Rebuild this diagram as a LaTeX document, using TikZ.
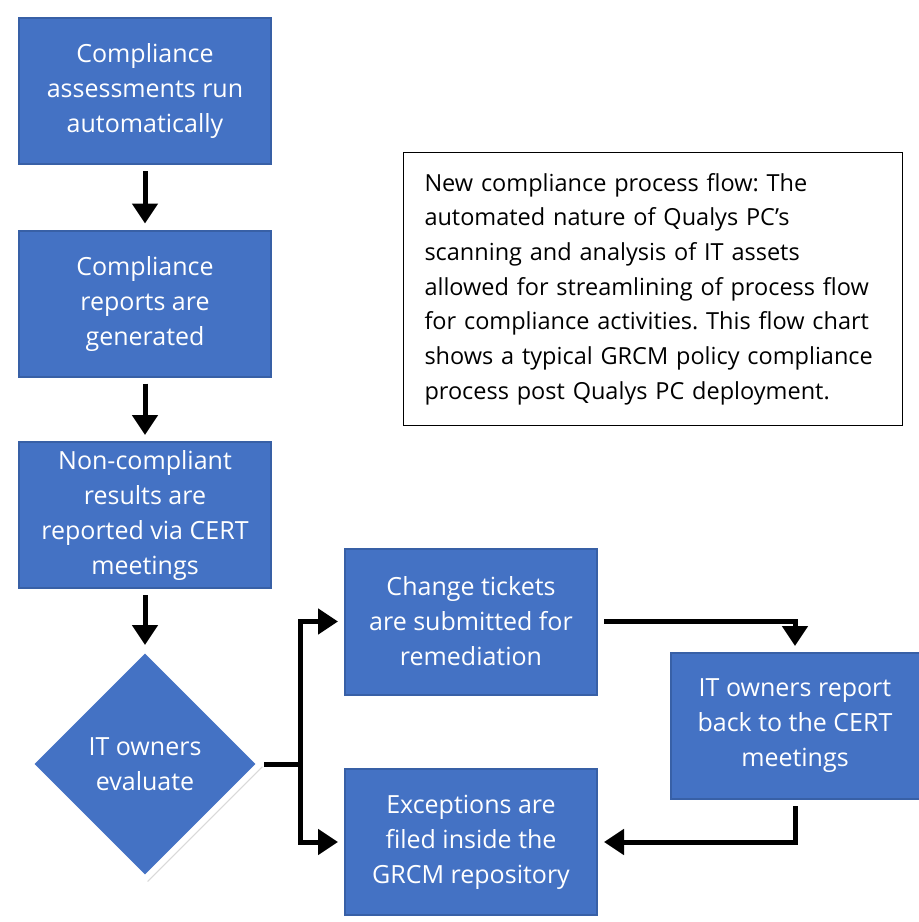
\documentclass[tikz,border=0pt]{standalone}
\usepackage{fontspec}
\setmainfont{Open Sans}
\frenchspacing
\usetikzlibrary{shapes.geometric,arrows.meta,shadows}
\definecolor{boxblue}{HTML}{4472C4}
\definecolor{boxedge}{HTML}{2F528F}
\tikzset{
  bevel/.style={path picture={\draw[boxedge, line width=10pt, opacity=0.55]
      (path picture bounding box.south west) rectangle (path picture bounding box.north east);}},
  procbox/.style={rectangle, fill=boxblue, draw=white, line width=6pt,
    minimum width=260pt, minimum height=154pt, inner sep=0pt, bevel,
    text=white, align=center, font=\fontsize{25}{35}\selectfont,
    drop shadow={shadow xshift=3pt, shadow yshift=-3pt, opacity=0.25, fill=black!60}},
  decbox/.style={diamond, fill=boxblue, draw=white, line width=6pt,
    minimum width=232pt, minimum height=232pt, inner sep=0pt,
    text=white, align=center, font=\fontsize{25}{35}\selectfont,
    drop shadow={shadow xshift=3pt, shadow yshift=-3pt, opacity=0.25, fill=black!60}},
  notebox/.style={rectangle, draw=black, line width=1.5pt, fill=white,
    minimum width=499pt, minimum height=273pt, text width=457pt,
    align=left, inner sep=0pt, font=\fontsize{23.5}{34.7}\selectfont},
  flow/.style={line width=5pt, -{Triangle[width=25pt,length=20pt]}},
}
\begin{document}
\begin{tikzpicture}[x=1pt,y=-1pt]
\useasboundingbox (0,0) rectangle (919,922);
\node[procbox] (b1) at (145,91) {Compliance\\assessments run\\automatically};
\node[procbox] (b2) at (145,303.5) {Compliance\\reports are\\generated};
\node[procbox] (b3) at (145,515) {Non-compliant\\results are\\reported via CERT\\meetings};
\node[decbox] (d) at (145,764) {IT owners\\evaluate};
\node[procbox] (b4) at (471,621.5) {Change tickets\\are submitted for\\remediation};
\node[procbox] (b5) at (471,842) {Exceptions are\\filed inside the\\GRCM repository};
\node[procbox, minimum width=257pt] (b6) at (795,726) {IT owners report\\back to the CERT\\meetings};
\node[notebox] (n) at (653,289) {New compliance process flow: The\\automated nature of Qualys PC’s\\scanning and analysis of IT assets\\allowed for streamlining of process flow\\for compliance activities. This flow chart\\shows a typical GRCM policy compliance\\process post Qualys PC deployment.};
\coordinate (j) at (300,764);
\draw[flow] (b1) -- (b2);
\draw[flow] (b2) -- (b3);
\draw[flow] (b3) -- (d);
\draw[line width=5pt] (d.east) -- (j);
\draw[flow] (j) |- (b4.west);
\draw[flow] (j) |- (b5.west);
\draw[flow] (b4.east) -| (b6.north);
\draw[flow] (b6.south) |- (b5.east);
\end{tikzpicture}
\end{document}
